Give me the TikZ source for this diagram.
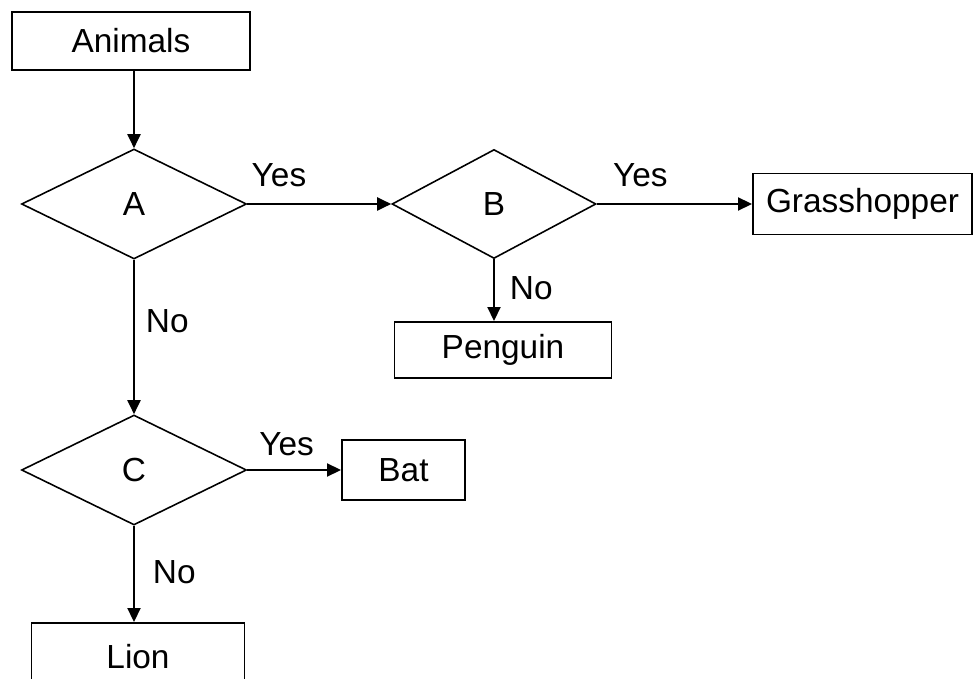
\documentclass[tikz,border=0pt]{standalone}
\usepackage{fontspec}
\setmainfont{Liberation Sans}
\usetikzlibrary{shapes.geometric,arrows.meta}
\begin{document}
\begin{tikzpicture}[thick,font=\fontsize{19}{23}\selectfont,
	box/.style={draw,line width=1.1pt,inner sep=0pt},
	test/.style={draw,diamond,line width=0.9pt,inner sep=0pt},
	lab/.style={inner sep=0pt},
	flow/.style={-{Triangle[length=0.28cm,width=0.26cm]},line width=1.1pt}]
		\useasboundingbox (0,0) rectangle (19.48,13.56);
		\clip (0,0) rectangle (19.48,13.56);
		\node[box,minimum width=4.76cm,minimum height=1.16cm] (animals) at (2.62,12.74) {Animals};
		\node[test,minimum width=4.5cm,minimum height=2.2cm] (a) at (2.68,9.48) {A};
		\node[test,minimum width=4.08cm,minimum height=2.18cm] (b) at (9.88,9.48) {B};
		\node[box,minimum width=4.38cm,minimum height=1.22cm] (grass) at (17.25,9.48) {Grasshopper};
		\node[box,minimum width=4.34cm,minimum height=1.12cm] (penguin) at (10.06,6.56) {Penguin};
		\node[test,minimum width=4.5cm,minimum height=2.2cm] (c) at (2.68,4.16) {C};
		\node[box,minimum width=2.46cm,minimum height=1.2cm] (bat) at (8.07,4.16) {Bat};
		\node[box,minimum width=4.26cm,minimum height=1.36cm] (lion) at (2.76,0.42) {Lion};
		\draw[flow] (animals.south -| a.north) -- (a.north);
		\draw[flow] (a.east) -- node[lab,pos=0.22,above=0.32cm] {Yes} (b.west);
		\draw[flow] (b.east) -- node[lab,pos=0.28,above=0.32cm] {Yes} (grass.west);
		\draw[flow] (b.south) -- node[lab,pos=0.47,right=0.3cm] {No} (b.south |- penguin.north);
		\draw[flow] (a.south) -- node[lab,pos=0.4,right=0.22cm] {No} (c.north);
		\draw[flow] (c.east) -- node[lab,pos=0.42,above=0.26cm] {Yes} (bat.west);
		\draw[flow] (c.south) -- node[lab,pos=0.48,right=0.36cm] {No} (c.south |- lion.north);
\end{tikzpicture}
\end{document}
